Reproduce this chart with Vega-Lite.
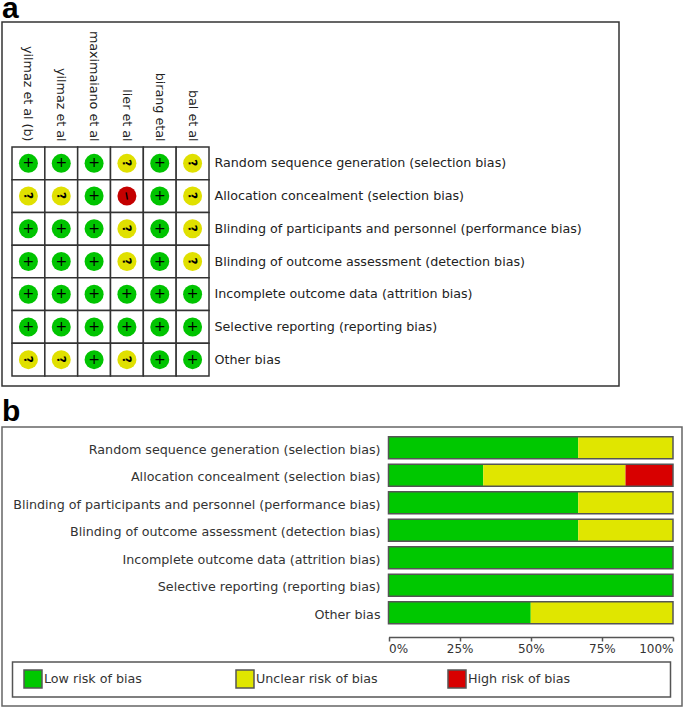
{
"$schema":"https://vega.github.io/schema/vega-lite/v6.json",
"background":"white",
"padding":{"left":1,"top":-7,"right":0,"bottom":0},
"spacing":9,
"config":{"font":"DejaVu Sans","text":{"font":"DejaVu Sans"}},
"datasets":{
"cells":[
{"bias":"Random sequence generation (selection bias)","study":"yilmaz et al (b)","risk":"Low","sign":"+"},
{"bias":"Random sequence generation (selection bias)","study":"yilmaz et al","risk":"Low","sign":"+"},
{"bias":"Random sequence generation (selection bias)","study":"maximaiano et al","risk":"Low","sign":"+"},
{"bias":"Random sequence generation (selection bias)","study":"lier et al","risk":"Unclear","sign":"?"},
{"bias":"Random sequence generation (selection bias)","study":"birang etal","risk":"Low","sign":"+"},
{"bias":"Random sequence generation (selection bias)","study":"bal et al","risk":"Unclear","sign":"?"},
{"bias":"Allocation concealment (selection bias)","study":"yilmaz et al (b)","risk":"Unclear","sign":"?"},
{"bias":"Allocation concealment (selection bias)","study":"yilmaz et al","risk":"Unclear","sign":"?"},
{"bias":"Allocation concealment (selection bias)","study":"maximaiano et al","risk":"Low","sign":"+"},
{"bias":"Allocation concealment (selection bias)","study":"lier et al","risk":"High","sign":"−"},
{"bias":"Allocation concealment (selection bias)","study":"birang etal","risk":"Low","sign":"+"},
{"bias":"Allocation concealment (selection bias)","study":"bal et al","risk":"Unclear","sign":"?"},
{"bias":"Blinding of participants and personnel (performance bias)","study":"yilmaz et al (b)","risk":"Low","sign":"+"},
{"bias":"Blinding of participants and personnel (performance bias)","study":"yilmaz et al","risk":"Low","sign":"+"},
{"bias":"Blinding of participants and personnel (performance bias)","study":"maximaiano et al","risk":"Low","sign":"+"},
{"bias":"Blinding of participants and personnel (performance bias)","study":"lier et al","risk":"Unclear","sign":"?"},
{"bias":"Blinding of participants and personnel (performance bias)","study":"birang etal","risk":"Low","sign":"+"},
{"bias":"Blinding of participants and personnel (performance bias)","study":"bal et al","risk":"Unclear","sign":"?"},
{"bias":"Blinding of outcome assessment (detection bias)","study":"yilmaz et al (b)","risk":"Low","sign":"+"},
{"bias":"Blinding of outcome assessment (detection bias)","study":"yilmaz et al","risk":"Low","sign":"+"},
{"bias":"Blinding of outcome assessment (detection bias)","study":"maximaiano et al","risk":"Low","sign":"+"},
{"bias":"Blinding of outcome assessment (detection bias)","study":"lier et al","risk":"Unclear","sign":"?"},
{"bias":"Blinding of outcome assessment (detection bias)","study":"birang etal","risk":"Low","sign":"+"},
{"bias":"Blinding of outcome assessment (detection bias)","study":"bal et al","risk":"Unclear","sign":"?"},
{"bias":"Incomplete outcome data (attrition bias)","study":"yilmaz et al (b)","risk":"Low","sign":"+"},
{"bias":"Incomplete outcome data (attrition bias)","study":"yilmaz et al","risk":"Low","sign":"+"},
{"bias":"Incomplete outcome data (attrition bias)","study":"maximaiano et al","risk":"Low","sign":"+"},
{"bias":"Incomplete outcome data (attrition bias)","study":"lier et al","risk":"Low","sign":"+"},
{"bias":"Incomplete outcome data (attrition bias)","study":"birang etal","risk":"Low","sign":"+"},
{"bias":"Incomplete outcome data (attrition bias)","study":"bal et al","risk":"Low","sign":"+"},
{"bias":"Selective reporting (reporting bias)","study":"yilmaz et al (b)","risk":"Low","sign":"+"},
{"bias":"Selective reporting (reporting bias)","study":"yilmaz et al","risk":"Low","sign":"+"},
{"bias":"Selective reporting (reporting bias)","study":"maximaiano et al","risk":"Low","sign":"+"},
{"bias":"Selective reporting (reporting bias)","study":"lier et al","risk":"Low","sign":"+"},
{"bias":"Selective reporting (reporting bias)","study":"birang etal","risk":"Low","sign":"+"},
{"bias":"Selective reporting (reporting bias)","study":"bal et al","risk":"Low","sign":"+"},
{"bias":"Other bias","study":"yilmaz et al (b)","risk":"Unclear","sign":"?"},
{"bias":"Other bias","study":"yilmaz et al","risk":"Unclear","sign":"?"},
{"bias":"Other bias","study":"maximaiano et al","risk":"Low","sign":"+"},
{"bias":"Other bias","study":"lier et al","risk":"Unclear","sign":"?"},
{"bias":"Other bias","study":"birang etal","risk":"Low","sign":"+"},
{"bias":"Other bias","study":"bal et al","risk":"Low","sign":"+"}
],
"bars":[
{"bias":"Random sequence generation (selection bias)","risk":"Low risk of bias","rank":1,"pct":66.7},
{"bias":"Random sequence generation (selection bias)","risk":"Unclear risk of bias","rank":2,"pct":33.3},
{"bias":"Allocation concealment (selection bias)","risk":"Low risk of bias","rank":1,"pct":33.3},
{"bias":"Allocation concealment (selection bias)","risk":"Unclear risk of bias","rank":2,"pct":50},
{"bias":"Allocation concealment (selection bias)","risk":"High risk of bias","rank":3,"pct":16.7},
{"bias":"Blinding of participants and personnel (performance bias)","risk":"Low risk of bias","rank":1,"pct":66.7},
{"bias":"Blinding of participants and personnel (performance bias)","risk":"Unclear risk of bias","rank":2,"pct":33.3},
{"bias":"Blinding of outcome assessment (detection bias)","risk":"Low risk of bias","rank":1,"pct":66.7},
{"bias":"Blinding of outcome assessment (detection bias)","risk":"Unclear risk of bias","rank":2,"pct":33.3},
{"bias":"Incomplete outcome data (attrition bias)","risk":"Low risk of bias","rank":1,"pct":100},
{"bias":"Selective reporting (reporting bias)","risk":"Low risk of bias","rank":1,"pct":100},
{"bias":"Other bias","risk":"Low risk of bias","rank":1,"pct":50},
{"bias":"Other bias","risk":"Unclear risk of bias","rank":2,"pct":50}
]},
"vconcat":[
{
"title":{"text":"a","anchor":"start","frame":"group","font":"Liberation Sans","fontSize":30,"fontWeight":"bold","color":"#000","offset":1,"dy":3},
"width":617,"height":364,
"view":{"stroke":"#333","strokeWidth":1.5,"fill":"white"},
"data":{"name":"cells"},
"encoding":{
"x":{"field":"study","type":"nominal","title":null,
"scale":{"domain":["yilmaz et al (b)","yilmaz et al","maximaiano et al","lier et al","birang etal","bal et al"],"range":[10,207],"paddingInner":0,"paddingOuter":0},
"axis":{"orient":"top","offset":-125,"domain":false,"ticks":false,"labelAngle":90,"labelAlign":"right","labelBaseline":"middle","labelPadding":6,"labelFontSize":12.7,"labelColor":"#222","labelLimit":200}},
"y":{"field":"bias","type":"nominal","title":null,
"scale":{"domain":["Random sequence generation (selection bias)","Allocation concealment (selection bias)","Blinding of participants and personnel (performance bias)","Blinding of outcome assessment (detection bias)","Incomplete outcome data (attrition bias)","Selective reporting (reporting bias)","Other bias"],"range":[125,354],"paddingInner":0,"paddingOuter":0},
"axis":{"orient":"right","offset":-410,"domain":false,"ticks":false,"labelPadding":5,"labelFontSize":12.7,"labelColor":"#222","labelLimit":450}}
},
"layer":[
{"mark":{"type":"rect","fill":"white","stroke":"#333","strokeWidth":1.5}},
{"mark":{"type":"point","filled":true,"size":361,"opacity":1},
"encoding":{"color":{"field":"risk","type":"nominal","legend":null,"scale":{"domain":["Low","Unclear","High"],"range":["#00c400","#e0e000","#c40000"]}}}},
{"transform":[{"filter":"datum.sign === '+'"}],"mark":{"type":"text","fontSize":14,"color":"#000"},"encoding":{"text":{"field":"sign"}}},
{"transform":[{"filter":"datum.sign !== '+'"}],"mark":{"type":"text","fontSize":12,"fontWeight":"bold","color":"#000","angle":80},"encoding":{"text":{"field":"sign"}}}
]
},
{
"title":{"text":"b","anchor":"start","frame":"group","font":"Liberation Sans","fontSize":30,"fontWeight":"bold","color":"#000","offset":1,"dy":1},
"width":680,"height":279,
"view":{"stroke":"#666","strokeWidth":1.5,"fill":"white"},
"resolve":{"scale":{"x":"independent","y":"independent"},"axis":{"x":"independent","y":"independent"}},
"layer":[
{"data":{"values":[{"left":0,"right":1,"top":0,"bottom":1}]},
"mark":{"type":"rect","fill":"white","stroke":"#555","strokeWidth":1.5},
"encoding":{
"x":{"field":"left","type":"quantitative","axis":null,"scale":{"domain":[0,1],"range":[10.5,668.5]}},
"x2":{"field":"right"},
"y":{"field":"top","type":"quantitative","axis":null,"scale":{"domain":[0,1],"range":[235,270]}},
"y2":{"field":"bottom"}
}},
{"data":{"name":"bars"},"mark":{"type":"bar"},
"encoding":{
"y":{"field":"bias","type":"nominal","title":null,
"scale":{"domain":["Random sequence generation (selection bias)","Allocation concealment (selection bias)","Blinding of participants and personnel (performance bias)","Blinding of outcome assessment (detection bias)","Incomplete outcome data (attrition bias)","Selective reporting (reporting bias)","Other bias"],"range":[7,199.5],"paddingInner":0.2,"paddingOuter":0.1},
"axis":{"orient":"left","offset":-382,"domain":false,"ticks":false,"labelPadding":4,"labelOffset":2,"labelFontSize":12.7,"labelColor":"#333","labelLimit":450}},
"x":{"field":"pct","type":"quantitative","stack":"zero","title":null,
"scale":{"domain":[0,100],"range":[386.5,671],"nice":false},
"axis":{"orient":"bottom","offset":-69,"values":[0,25,50,75,100],"labelExpr":"datum.value + '%'","labelFlush":true,"grid":false,"tickSize":4,"tickColor":"#555","domainColor":"#555","domainWidth":1.5,"tickWidth":1.5,"labelFontSize":12,"labelColor":"#333","labelPadding":2}},
"order":{"field":"rank","type":"quantitative"},
"color":{"field":"risk","type":"nominal","title":null,
"scale":{"domain":["Low risk of bias","Unclear risk of bias","High risk of bias"],"range":["#00c800","#e0e600","#d80000"]},
"legend":{"orient":"none","legendX":10,"legendY":234,"direction":"horizontal","columns":3,"gridAlign":"all","columnPadding":66,"symbolOffset":3,"labelOffset":1,"symbolType":"square","symbolSize":324,"symbolStrokeColor":"#555","symbolStrokeWidth":1.5,"symbolOpacity":1,"labelFontSize":12.7,"labelColor":"#333","labelLimit":300,"padding":8}}
}},
{"data":{"name":"bars"},"transform":[{"aggregate":[{"op":"sum","field":"pct","as":"total"}],"groupby":["bias"]}],
"mark":{"type":"bar","fill":null,"stroke":"#555","strokeWidth":1.5},
"encoding":{
"y":{"field":"bias","type":"nominal","axis":null,
"scale":{"domain":["Random sequence generation (selection bias)","Allocation concealment (selection bias)","Blinding of participants and personnel (performance bias)","Blinding of outcome assessment (detection bias)","Incomplete outcome data (attrition bias)","Selective reporting (reporting bias)","Other bias"],"range":[7,199.5],"paddingInner":0.2,"paddingOuter":0.1}},
"x":{"field":"total","type":"quantitative","axis":null,"scale":{"domain":[0,100],"range":[386.5,671],"nice":false}}}}
]
}
],
"resolve":{"scale":{"color":"independent"},"legend":{"color":"independent"}}
}
